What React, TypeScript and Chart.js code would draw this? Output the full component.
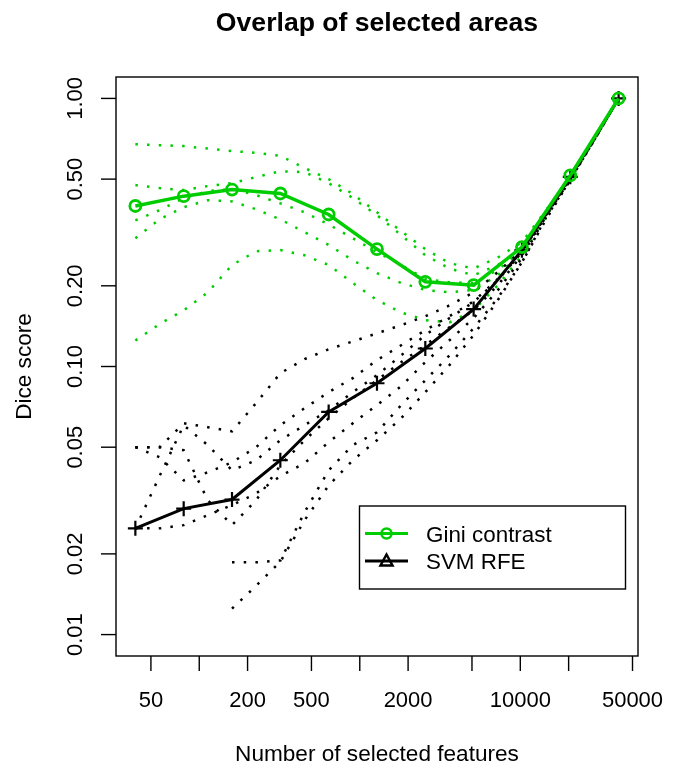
import React, { useEffect, useRef } from "react";
import { Chart, registerables } from "chart.js";

Chart.register(...registerables);

// ---------- data ----------
const featureCounts = [40, 80, 160, 320, 640, 1280, 2560, 5120, 10240, 20480, 40960];
const giniMean = [0.397, 0.432, 0.457, 0.442, 0.369, 0.274, 0.207, 0.201, 0.279, 0.516, 1.0];
const svmMean = [0.0249, 0.0295, 0.0319, 0.0447, 0.0677, 0.0866, 0.1167, 0.1637, 0.2716, 0.51, 1.0];

const runCounts = [40, 56.6, 80, 113, 160, 226, 320, 453, 640, 905, 1280, 1810, 2560, 3620, 5120, 7240, 10240, 14480, 20480, 28960, 40960];

const giniRun1 = [0.675, 0.669, 0.664, 0.65, 0.636, 0.627, 0.611, 0.55, 0.5, 0.44, 0.376, 0.32, 0.274, 0.243, 0.232, 0.255, 0.291, 0.383, 0.513, 0.71, 1.0];
const giniRun2 = [0.475, 0.463, 0.455, 0.471, 0.483, 0.509, 0.535, 0.531, 0.483, 0.425, 0.367, 0.309, 0.26, 0.232, 0.219, 0.239, 0.276, 0.373, 0.504, 0.704, 1.0];
const giniRun3 = [0.351, 0.383, 0.425, 0.451, 0.459, 0.436, 0.406, 0.376, 0.339, 0.301, 0.267, 0.239, 0.212, 0.206, 0.205, 0.229, 0.272, 0.37, 0.509, 0.71, 1.0];
const giniRun4 = [0.301, 0.354, 0.393, 0.417, 0.413, 0.386, 0.354, 0.317, 0.284, 0.249, 0.223, 0.205, 0.193, 0.189, 0.193, 0.219, 0.267, 0.367, 0.504, 0.71, 1.0];
const giniRun5 = [0.125, 0.144, 0.162, 0.189, 0.239, 0.269, 0.272, 0.26, 0.239, 0.205, 0.177, 0.159, 0.149, 0.146, 0.162, 0.201, 0.26, 0.364, 0.5, 0.704, 1.0];

const svmRun1 = [0.05, 0.05, 0.0614, 0.0594, 0.0573, 0.073, 0.0944, 0.1065, 0.116, 0.124, 0.133, 0.1426, 0.154, 0.169, 0.189, 0.225, 0.272, 0.37, 0.504, 0.71, 1.0];
const svmRun2 = [0.05, 0.0459, 0.0376, 0.0403, 0.0439, 0.05, 0.0604, 0.0699, 0.0802, 0.0905, 0.1056, 0.12, 0.1366, 0.154, 0.175, 0.212, 0.265, 0.367, 0.504, 0.704, 1.0];
const svmRun3 = [0.05, 0.05, 0.0487, 0.0317, 0.0256, 0.0317, 0.0428, 0.0531, 0.0641, 0.0762, 0.0889, 0.1038, 0.12, 0.14, 0.1622, 0.201, 0.26, 0.367, 0.5, 0.704, 1.0];
const svmRun4 = [0.0249, 0.0249, 0.0256, 0.0279, 0.0304, 0.0336, 0.039, 0.0436, 0.0522, 0.0614, 0.0718, 0.0844, 0.1038, 0.1253, 0.1515, 0.1926, 0.2535, 0.364, 0.5, 0.704, 1.0];
const svmRun5 = [0.0249, 0.039, 0.0604, 0.0509, 0.041, 0.0447, 0.0531, 0.0604, 0.0687, 0.0802, 0.0928, 0.11, 0.131, 0.1515, 0.174, 0.21, 0.267, 0.37, 0.504, 0.704, 1.0];
const svmRun6 = [null, null, null, null, 0.0125, 0.0152, 0.0187, 0.0267, 0.036, 0.0447, 0.0531, 0.0641, 0.0802, 0.1012, 0.131, 0.1768, 0.245, 0.36, 0.496, 0.704, 1.0];
const svmRun7 = [null, null, null, null, 0.0186, 0.0186, 0.0189, 0.0286, 0.041, 0.0509, 0.0568, 0.0718, 0.0889, 0.11, 0.139, 0.18, 0.245, 0.354, 0.496, 0.699, 1.0];

const giniRuns = [giniRun1, giniRun2, giniRun3, giniRun4, giniRun5];
const svmRuns = [svmRun1, svmRun2, svmRun3, svmRun4, svmRun5, svmRun6, svmRun7];

const xTickValues = [50, 100, 200, 500, 1000, 2000, 5000, 10000, 20000, 50000];
const xTickLabels = ["50", "", "200", "500", "", "2000", "", "10000", "", "50000"];
const yTickValues = [0.01, 0.02, 0.05, 0.1, 0.2, 0.5, 1];
const yTickLabels = ["0.01", "0.02", "0.05", "0.10", "0.20", "0.50", "1.00"];

const titleText = "Overlap of selected areas";
const xTitle = "Number of selected features";
const yTitle = "Dice score";
const legendLabels = ["Gini contrast", "SVM RFE"];

const GREEN = "#00CD00";
const BLACK = "#000000";
const FONT = '"Liberation Sans", Arial, Helvetica, sans-serif';

const toPoints = (xs: number[], ys: (number | null)[]) =>
  xs.map((x, i) => ({ x, y: ys[i] }));

const rStylePlugin = {
  id: "rStyle",
  afterDraw(chart: any) {
    const { ctx, chartArea: a, scales } = chart;
    ctx.save();
    ctx.strokeStyle = "#000";
    ctx.fillStyle = "#000";
    ctx.lineWidth = 1.4;
    ctx.strokeRect(a.left, a.top, a.right - a.left, a.bottom - a.top);

    // x axis ticks & labels
    ctx.font = `22px ${FONT}`;
    ctx.textAlign = "center";
    ctx.textBaseline = "alphabetic";
    xTickValues.forEach((v, i) => {
      const px = scales.x.getPixelForValue(v);
      ctx.beginPath();
      ctx.moveTo(px, a.bottom);
      ctx.lineTo(px, a.bottom + 15);
      ctx.stroke();
      if (xTickLabels[i]) ctx.fillText(xTickLabels[i], px, a.bottom + 51);
    });

    // y axis ticks & labels (rotated, R style)
    yTickValues.forEach((v, i) => {
      const py = scales.y.getPixelForValue(v);
      ctx.beginPath();
      ctx.moveTo(a.left, py);
      ctx.lineTo(a.left - 15, py);
      ctx.stroke();
      ctx.save();
      ctx.translate(a.left - 34, py);
      ctx.rotate(-Math.PI / 2);
      ctx.fillText(yTickLabels[i], 0, 0);
      ctx.restore();
    });

    // axis titles
    const cx = (a.left + a.right) / 2;
    const cy = (a.top + a.bottom) / 2;
    ctx.font = `22.6px ${FONT}`;
    ctx.fillText(xTitle, cx, 761);
    ctx.save();
    ctx.translate(31, cy);
    ctx.rotate(-Math.PI / 2);
    ctx.fillText(yTitle, 0, 0);
    ctx.restore();

    // main title
    ctx.font = `bold 26.6px ${FONT}`;
    ctx.fillText(titleText, cx, 31);

    // legend
    const lx = 359.5, ly = 506, lw = 266, lh = 83;
    ctx.lineWidth = 1.4;
    ctx.strokeStyle = "#000";
    ctx.strokeRect(lx, ly, lw, lh);
    const rows = [533.5, 561];
    const colors = [GREEN, BLACK];
    rows.forEach((ry, i) => {
      ctx.strokeStyle = colors[i];
      ctx.lineWidth = 3;
      ctx.beginPath();
      ctx.moveTo(365, ry);
      ctx.lineTo(408, ry);
      ctx.stroke();
      ctx.lineWidth = 2.5;
      ctx.beginPath();
      if (i === 0) {
        ctx.arc(386.5, ry, 5, 0, Math.PI * 2);
      } else {
        ctx.moveTo(386.5, ry - 6.5);
        ctx.lineTo(392.5, ry + 4.5);
        ctx.lineTo(380.5, ry + 4.5);
        ctx.closePath();
      }
      ctx.stroke();
      ctx.fillStyle = "#000";
      ctx.font = `22.4px ${FONT}`;
      ctx.textAlign = "left";
      ctx.fillText(legendLabels[i], 426, ry + 8);
    });
    ctx.restore();
  },
};

export default function App() {
  const ref = useRef<HTMLCanvasElement>(null);

  useEffect(() => {
    if (!ref.current) return;
    const dotted = (ys: (number | null)[], color: string, order: number) => ({
      data: toPoints(runCounts, ys),
      borderColor: color,
      backgroundColor: color,
      borderWidth: 2.5,
      borderDash: [2.5, 9.2],
      borderCapStyle: "butt",
      pointRadius: 0,
      tension: 0,
      spanGaps: false,
      order,
    });
    const datasets: any[] = [
      {
        label: legendLabels[0],
        data: toPoints(featureCounts, giniMean),
        borderColor: GREEN,
        borderWidth: 3.5,
        pointStyle: "circle",
        pointRadius: 5.5,
        pointBorderWidth: 2.8,
        pointBorderColor: GREEN,
        pointBackgroundColor: "rgba(0,0,0,0)",
        tension: 0,
        order: 0,
      },
      {
        label: legendLabels[1],
        data: toPoints(featureCounts, svmMean),
        borderColor: BLACK,
        borderWidth: 3,
        pointStyle: "cross",
        pointRadius: 7.5,
        pointBorderWidth: 2.2,
        pointBorderColor: BLACK,
        pointBackgroundColor: BLACK,
        tension: 0,
        order: 1,
      },
      ...svmRuns.map((r) => dotted(r, BLACK, 2)),
      ...giniRuns.map((r) => dotted(r, GREEN, 3)),
    ];

    const chart = new Chart(ref.current, {
      type: "line",
      data: { datasets },
      options: {
        responsive: false,
        maintainAspectRatio: false,
        animation: false,
        devicePixelRatio: 1,
        layout: { padding: { left: 116, right: 37, top: 77, bottom: 117 } },
        plugins: {
          legend: { display: false },
          tooltip: { enabled: false },
          title: { display: false },
        },
        scales: {
          x: { type: "logarithmic", min: 30.3, max: 54100, display: false },
          y: { type: "logarithmic", min: 0.00832, max: 1.202, display: false },
        },
      },
      plugins: [rStylePlugin],
    } as any);
    return () => chart.destroy();
  }, []);

  return (
    <div style={{ position: "absolute", left: 0, top: 0, width: 675, height: 773, background: "#fff" }}>
      <canvas ref={ref} width={675} height={773} style={{ display: "block", width: 675, height: 773 }} />
    </div>
  );
}
